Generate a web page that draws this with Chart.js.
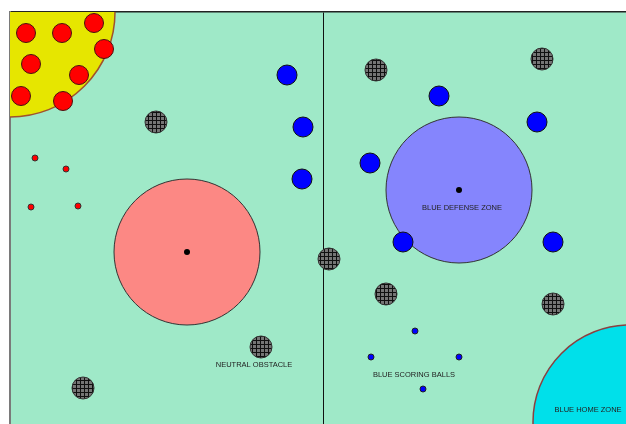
<!DOCTYPE html>
<html>
<head>
<meta charset="utf-8">
<script src="https://cdn.jsdelivr.net/npm/chart.js@4"></script>
<style>
  body { margin: 0; background: #fff; overflow: hidden; }
</style>
</head>
<body>
<canvas id="field" width="626" height="424"></canvas>
<script>
// field coordinates (origin = top-left corner of the field)
const redBalls = [[16, 21], [52, 21], [84, 11], [94, 37], [21, 52], [69, 63], [11, 84], [53, 89]];
const redSmall = [[25, 146], [56, 157], [21, 195], [68, 194]];
const obstacles = [[146, 110], [319, 247], [251, 335], [73, 376], [366, 58], [532, 47], [376, 282], [543, 292]];
const blueBalls = [[277, 63], [293, 115], [292, 167], [429, 84], [527, 110], [360, 151], [393, 230], [543, 230]];
const blueSmall = [[405, 319], [361, 345], [449, 345], [413, 377]];
const redZone = [[177, 240]];
const blueZone = [[449, 178]];
const yellowZone = [[0, 0]];
const homeZone = [[620, 410]];
const centerLine = 313;
const labelTexts = ['NEUTRAL OBSTACLE', 'BLUE SCORING BALLS', 'BLUE DEFENSE ZONE', 'BLUE HOME ZONE'];
const labelPos = [[244, 353], [404, 363], [452, 196], [578, 398]];

function pts(list) {
  return list.map(function (p) { return { x: p[0], y: p[1] }; });
}

function makeHatch() {
  const c = document.createElement('canvas');
  c.width = 4; c.height = 4;
  const g = c.getContext('2d');
  g.fillStyle = '#757575';
  g.fillRect(0, 0, 4, 4);
  g.fillStyle = '#101010';
  g.fillRect(0, 0, 4, 1);
  g.fillRect(0, 0, 1, 4);
  return g.createPattern(c, 'repeat');
}

function set(label, list, radius, fill, stroke, width, clip) {
  const ds = {
    label: label,
    data: pts(list),
    pointRadius: radius,
    pointHoverRadius: radius,
    backgroundColor: fill,
    borderColor: stroke,
    borderWidth: width,
    pointStyle: 'circle'
  };
  if (clip !== undefined) ds.clip = clip;
  return ds;
}

const fieldBg = {
  id: 'fieldBg',
  beforeDraw: function (chart) {
    const a = chart.chartArea, ctx = chart.ctx;
    ctx.save();
    ctx.fillStyle = '#9fe9c8';
    ctx.fillRect(a.left, a.top, a.right - a.left, a.bottom - a.top);
    ctx.restore();
  }
};

const fieldLabels = {
  id: 'fieldLabels',
  afterDatasetsDraw: function (chart) {
    const ctx = chart.ctx, xs = chart.scales.x, ys = chart.scales.y;
    ctx.save();
    ctx.font = '7.5px "Liberation Sans", Arial, sans-serif';
    ctx.fillStyle = '#222';
    ctx.textAlign = 'center';
    ctx.textBaseline = 'middle';
    labelTexts.forEach(function (t, i) {
      ctx.fillText(t, xs.getPixelForValue(labelPos[i][0]), ys.getPixelForValue(labelPos[i][1]));
    });
    ctx.restore();
  }
};

const hatch = makeHatch();
const ctx = document.getElementById('field');

new Chart(ctx, {
  type: 'scatter',
  data: {
    datasets: [
      set('center dots', redZone.concat(blueZone), 3, '#000', '#000', 0),
      set('red balls', redBalls, 9.5, '#ff0000', '#4a1010', 1),
      set('red small', redSmall, 3, '#ff0000', '#333', 1),
      set('blue balls', blueBalls, 10, '#0000ff', '#111', 1),
      set('blue small', blueSmall, 3, '#0000ff', '#222', 1),
      set('obstacles', obstacles, 11, hatch, '#333', 1),
      set('red zone', redZone, 73, '#fc8884', '#333', 1),
      set('blue zone', blueZone, 73, '#8585fd', '#333', 1),
      set('yellow zone', yellowZone, 105, '#e6e600', '#a0522d', 1.5, 0),
      set('home zone', homeZone, 97, '#00e0ea', '#8b4040', 1.5, 0)
    ]
  },
  options: {
    responsive: false,
    animation: false,
    events: [],
    layout: { autoPadding: false, padding: { left: 10, top: 12, right: 0, bottom: 0 } },
    plugins: { legend: { display: false }, tooltip: { enabled: false } },
    scales: {
      x: {
        type: 'linear',
        position: 'top',
        min: 0,
        max: 616,
        afterBuildTicks: function (scale) { scale.ticks = [{ value: centerLine }]; },
        ticks: { display: false },
        grid: { display: true, drawTicks: false, color: '#111', lineWidth: 1 },
        border: { display: true, color: '#222', width: 1.5 }
      },
      y: {
        type: 'linear',
        position: 'left',
        min: 0,
        max: 412,
        reverse: true,
        ticks: { display: false },
        grid: { display: false, drawTicks: false },
        border: { display: true, color: '#7a7a7a', width: 2 }
      }
    }
  },
  plugins: [fieldBg, fieldLabels]
});
</script>
</body>
</html>
